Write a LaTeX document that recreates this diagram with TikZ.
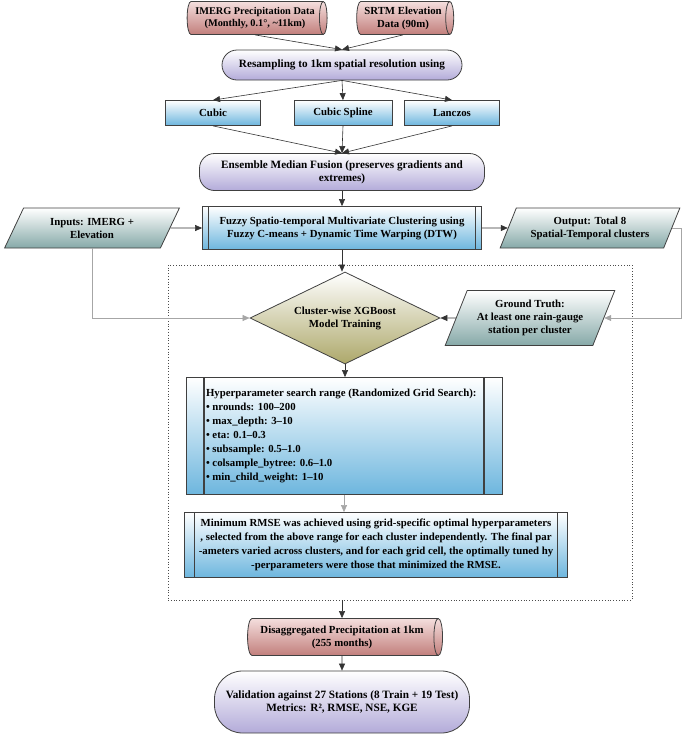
\documentclass[tikz,border=0pt]{standalone}
\usepackage{fontspec}
\setmainfont{Liberation Serif}
\usetikzlibrary{shapes.geometric,arrows.meta,fit}
\definecolor{cylB}{HTML}{C27F7C}
\definecolor{cylT}{HTML}{F4DEDD}
\definecolor{pilB}{HTML}{B3ABD9}
\definecolor{boxB}{HTML}{6DB6DE}
\definecolor{parB}{HTML}{86A9A8}
\definecolor{diaB}{HTML}{ADA86A}
\begin{document}
\begin{tikzpicture}[x=1pt,y=-1pt,
  every node/.style={font=\bfseries\fontsize{10.8}{13}\selectfont, align=center, draw=black!75, line width=0.8pt},
  cyl/.style={cylinder, shape aspect=0.35, top color=cylT, bottom color=cylB, minimum height=#1, minimum width=33, inner sep=1pt},
  pill/.style={rounded corners=15, top color=white, bottom color=pilB, inner sep=3pt},
  box/.style={rectangle, top color=white, bottom color=boxB},
  pproc/.style={box, path picture={
     \draw[black!75,line width=1.2pt] ([xshift=#1]path picture bounding box.north west) -- ([xshift=#1]path picture bounding box.south west)
        ([xshift=-#1]path picture bounding box.north east) -- ([xshift=-#1]path picture bounding box.south east);}},
  para/.style={trapezium, trapezium left angle=65, trapezium right angle=115, trapezium stretches=true, top color=white, bottom color=parB, minimum width=#1, minimum height=40},
  arr/.style={-{Triangle[length=7pt,width=6pt]}, line width=0.6pt, black!80},
  garr/.style={arr, gray!70}
]
\useasboundingbox (0,0) rectangle (685,737);

\node[cyl=140, inner sep=0pt, font=\bfseries\fontsize{10.3}{12.5}\selectfont] (imerg) at (255,18) {IMERG Precipitation Data\\(Monthly, 0.1°, \textasciitilde11km)};
\node[cyl=97, inner sep=0pt] (srtm) at (403,18) {SRTM Elevation\\Data (90m)};
\node[pill, minimum width=240, minimum height=30] (res) at (342,65) {\fontsize{11.2}{13}\selectfont Resampling to 1km spatial resolution using};
\node[box, minimum width=95, minimum height=25] (cubic) at (213,113) {Cubic};
\node[box, minimum width=98, minimum height=25] (spline) at (343,113) {Cubic Spline};
\node[box, minimum width=95, minimum height=25] (lanc) at (452,113) {Lanczos};
\node[pill, minimum width=285, minimum height=37] (ens) at (342,172) {\fontsize{11.2}{14}\selectfont Ensemble Median Fusion (preserves gradients and\\\fontsize{11.2}{14}\selectfont extremes)};
\node[pproc=6pt, minimum width=279, minimum height=43, inner sep=0pt] (fuzzy) at (342,228) {Fuzzy Spatio-temporal Multivariate Clustering using\\Fuzzy C-means + Dynamic Time Warping (DTW)};
\node[para=175] (inp) at (92,228) {Inputs: IMERG +\\Elevation};
\node[para=180] (out) at (590,228) {Output: Total 8\\Spatial-Temporal clusters};
\node[diamond, aspect=2.1, minimum width=190, minimum height=92, inner sep=0pt, top color=white, bottom color=diaB] (dia) at (345,318) {Cluster-wise XGBoost\\Model Training};
\node[para=170, minimum height=55] (gt) at (530,318) {Ground Truth:\\At least one rain-gauge\\station per cluster};
\node[pproc=18pt, minimum width=316, minimum height=117] (hyp) at (344,436) {};
\node[anchor=west, draw=none, align=left, line width=0pt, inner sep=0pt, font=\bfseries\fontsize{10.8}{14}\selectfont] (hyptxt) at (206,436) {Hyperparameter search range (Randomized Grid Search):\\
• nrounds: 100–200\\• max\_depth: 3–10\\• eta: 0.1–0.3\\• subsample: 0.5–1.0\\• colsample\_bytree: 0.6–1.0\\• min\_child\_weight: 1–10};
\node[pproc=10pt, minimum width=383, minimum height=65, inner sep=1pt, font=\bfseries\fontsize{10.8}{14}\selectfont] (rmse) at (376,545) {Minimum RMSE was achieved using grid-specific optimal hyperparameters\\, selected from the above range for each cluster independently. The final par\\-ameters varied across clusters, and for each grid cell, the optimally tuned hy\\-perparameters were those that minimized the RMSE.};
\coordinate (d1) at (168,265); \coordinate (d2) at (632,600);
\node[draw=black!70, dotted, line width=0.8pt, fit=(d1)(d2), inner sep=0pt] (dots) {};
\node[cyl=195, minimum width=37] (dis) at (342,637) {Disaggregated Precipitation at 1km\\(255 months)};
\node[pill, minimum width=255, minimum height=62, rounded corners=28] (val) at (342,702) {\fontsize{11.2}{14}\selectfont Validation against 27 Stations (8 Train + 19 Test)\\\fontsize{11.2}{14}\selectfont Metrics: R², RMSE, NSE, KGE};

\draw[arr] (imerg.south) -- (res.north);
\draw[arr] (srtm.south) -- (res.north);
\draw[arr] (res.south) -- (cubic.north);
\draw[arr] (res.south) -- (spline.north);
\draw[arr] (res.south) -- (lanc.north);
\draw[arr] (cubic.south) -- (ens.north);
\draw[arr] (spline.south) -- (ens.north);
\draw[arr] (lanc.south) -- (ens.north);
\draw[arr] (ens.south) -- (fuzzy.north);
\draw[arr] (inp.east) -- (fuzzy.west);
\draw[arr] (fuzzy.east) -- (out.west);
\draw[arr] (fuzzy.south) -- (fuzzy.south |- dia.north);
\draw[garr] (inp.south) |- (dia.west);
\draw[garr] (out.east) -- ++(9,0) |- (gt.east);
\draw[arr] (gt.west) -- (dia.east);
\draw[arr] (dia.south) -- (dia.south |- hyp.north);
\draw[garr] (hyp.south) -- (hyp.south |- rmse.north);
\draw[arr] (dots.south -| dis.north) -- (dis.north);
\draw[arr] (dis.south) -- (val.north);
\end{tikzpicture}
\end{document}
